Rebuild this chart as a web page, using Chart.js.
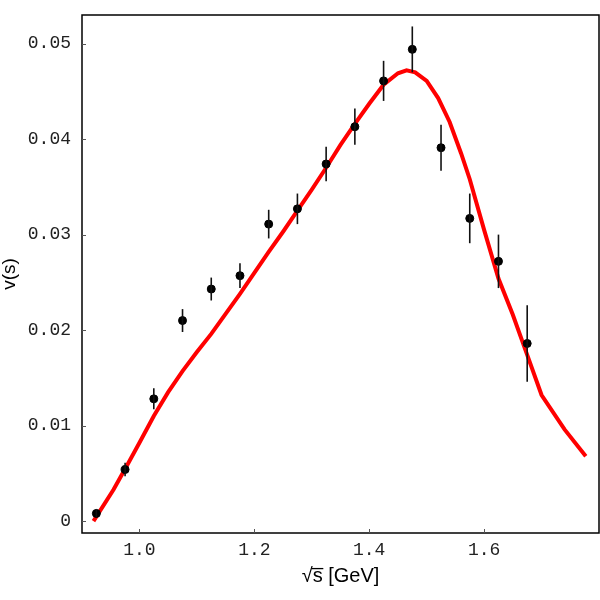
<!DOCTYPE html>
<html>
<head>
<meta charset="utf-8">
<script src="https://cdn.jsdelivr.net/npm/chart.js@4"></script>
<style>
  html, body { margin: 0; padding: 0; background: #fff; }
</style>
</head>
<body>
<canvas id="myChart" width="600" height="600"></canvas>
<script>
// measured points with errors
const sqrtS = [0.925, 0.975, 1.025, 1.075, 1.125, 1.175, 1.225, 1.275, 1.325, 1.375, 1.425, 1.475, 1.525, 1.575, 1.625, 1.675]
const vals = [0.0008, 0.0054, 0.0128, 0.0210, 0.0243, 0.0257, 0.0311, 0.0327, 0.0374, 0.0413, 0.0461, 0.0494, 0.0391, 0.0317, 0.0272, 0.0186]
const errs = [0.0004, 0.0007, 0.0011, 0.0012, 0.0012, 0.0013, 0.0015, 0.0016, 0.0018, 0.0019, 0.0021, 0.0024, 0.0024, 0.0026, 0.0028, 0.0040]

// fit curve
const fitX = [0.92, 0.955, 0.98, 1.0, 1.025, 1.05, 1.075, 1.1, 1.125, 1.15, 1.175, 1.2, 1.225, 1.25, 1.275, 1.3, 1.325, 1.35, 1.375, 1.4, 1.425, 1.45, 1.465, 1.48, 1.5, 1.52, 1.54, 1.56, 1.575, 1.6, 1.625, 1.65, 1.675, 1.7, 1.74, 1.777]
const fitY = [0.0, 0.0033, 0.0060, 0.0082, 0.0110, 0.0135, 0.0157, 0.0177, 0.0196, 0.0217, 0.0238, 0.0260, 0.0282, 0.0303, 0.0325, 0.0347, 0.0370, 0.0394, 0.0416, 0.0437, 0.0457, 0.0469, 0.0472, 0.0470, 0.0461, 0.0443, 0.0418, 0.0385, 0.0358, 0.0305, 0.0254, 0.0216, 0.0174, 0.0132, 0.0096, 0.0068]

const xTicks = [1.0, 1.2, 1.4, 1.6]
const xTickLabels = ['1.0', '1.2', '1.4', '1.6']
const yTicks = [0, 0.01, 0.02, 0.03, 0.04, 0.05]
const yTickLabels = ['0', '0.01', '0.02', '0.03', '0.04', '0.05']

window.onload = function () {
  const ctx = document.getElementById('myChart')

  const pts = sqrtS.map((x, i) => ({ x: x, y: vals[i] }))
  const fit = fitX.map((x, i) => ({ x: x, y: fitY[i] }))

  const monoFont = { family: 'Liberation Mono', size: 18 }

  new Chart(ctx, {
    type: 'scatter',
    data: {
      datasets: [
        {
          label: 'data',
          data: pts,
          backgroundColor: '#000',
          borderColor: '#000',
          pointRadius: 4,
          showLine: false,
        },
        {
          label: 'fit',
          data: fit,
          borderColor: '#ff0000',
          borderWidth: 4,
          pointRadius: 0,
          showLine: true,
          tension: 0,
        },
      ],
    },
    options: {
      responsive: false,
      animation: false,
      events: [],
      layout: { autoPadding: false, padding: { top: 15, right: 1, left: 0, bottom: 0 } },
      plugins: { legend: { display: false }, tooltip: { enabled: false } },
      scales: {
        x: {
          type: 'linear',
          min: 0.9,
          max: 1.8,
          grid: { display: false, drawTicks: false },
          border: { display: false },
          afterBuildTicks: (s) => { s.ticks = xTicks.map((v) => ({ value: v })) },
          afterFit: (s) => { s.height = 67; s.paddingLeft = 0; s.paddingRight = 0 },
          ticks: {
            padding: 6,
            color: '#222',
            font: monoFont,
            maxRotation: 0,
            callback: (v) => xTickLabels[xTicks.indexOf(v)],
          },
          title: {
            display: true,
            text: '\u221As\u0305 [GeV]',
            color: '#000',
            font: { family: 'Liberation Sans', size: 20, lineHeight: 1.2 },
            padding: { top: 0, bottom: 12 },
          },
        },
        y: {
          type: 'linear',
          min: -0.00125,
          max: 0.053,
          grid: { display: false, drawTicks: false },
          border: { display: false },
          afterBuildTicks: (s) => { s.ticks = yTicks.map((v) => ({ value: v })) },
          afterFit: (s) => { s.width = 82; s.paddingTop = 0; s.paddingBottom = 0 },
          ticks: {
            padding: 11,
            color: '#222',
            font: monoFont,
            callback: (v) => yTickLabels[yTicks.indexOf(v)],
          },
          title: {
            display: true,
            text: 'v(s)',
            color: '#000',
            font: { family: 'Liberation Sans', size: 19, lineHeight: 1 },
            padding: { top: 0, bottom: 0 },
          },
        },
      },
    },
    plugins: [
      {
        id: 'errbars',
        afterDatasetsDraw: function (chart) {
          const c = chart.ctx
          const xs = chart.scales.x, ys = chart.scales.y
          c.save()
          c.strokeStyle = '#111'
          c.lineWidth = 1.6
          sqrtS.forEach((x, i) => {
            const px = xs.getPixelForValue(x)
            c.beginPath()
            c.moveTo(px, ys.getPixelForValue(vals[i] - errs[i]))
            c.lineTo(px, ys.getPixelForValue(vals[i] + errs[i]))
            c.stroke()
          })
          c.restore()
        },
      },
      {
        id: 'frame',
        afterDraw: function (chart) {
          const c = chart.ctx
          const a = chart.chartArea
          const xs = chart.scales.x, ys = chart.scales.y
          c.save()
          c.strokeStyle = '#000'
          c.lineWidth = 1.5
          c.strokeRect(a.left, a.top, a.right - a.left, a.bottom - a.top)
          // small ticks pointing inward
          c.strokeStyle = '#555'
          c.lineWidth = 1
          c.beginPath()
          xTicks.forEach((v) => {
            const px = Math.round(xs.getPixelForValue(v)) + 0.5
            c.moveTo(px, a.bottom)
            c.lineTo(px, a.bottom - 4)
          })
          yTicks.forEach((v) => {
            const py = Math.round(ys.getPixelForValue(v)) + 0.5
            c.moveTo(a.left, py)
            c.lineTo(a.left + 4, py)
          })
          c.stroke()
          c.restore()
        },
      },
    ],
  })
}
</script>
</body>
</html>
